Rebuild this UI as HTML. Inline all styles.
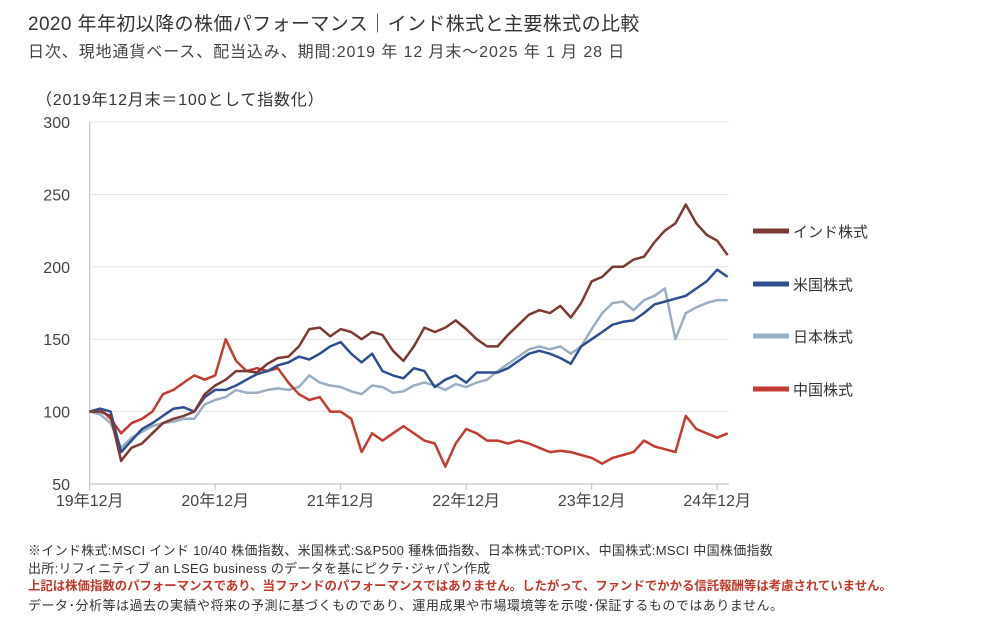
<!DOCTYPE html>
<html><head><meta charset="utf-8"><style>
body{margin:0;background:#fff;width:988px;height:623px;overflow:hidden;font-family:"Liberation Sans","Noto Sans CJK JP",sans-serif;color:#333}
.t{position:absolute;white-space:nowrap}
</style></head><body>
<div class="t" style="left:28px;top:9px;font-size:19px;letter-spacing:0.4px;color:#333">2020 年年初以降の株価パフォーマンス｜インド株式と主要株式の比較</div>
<div class="t" style="left:28px;top:38px;font-size:16px;letter-spacing:0.9px;color:#444">日次、現地通貨ベース、配当込み、期間:2019 年 12 月末～2025 年 1 月 28 日</div>
<div class="t" style="left:36px;top:86px;font-size:16px;letter-spacing:0.8px;color:#333">（2019年12月末＝100として指数化）</div>
<svg id="chart" width="988" height="623" style="position:absolute;left:0;top:0"></svg>
<div class="t" style="left:28px;top:540px;font-size:13px;letter-spacing:0.3px;color:#333">※インド株式:MSCI インド 10/40 株価指数、米国株式:S&amp;P500 種株価指数、日本株式:TOPIX、中国株式:MSCI 中国株価指数</div>
<div class="t" style="left:28px;top:558px;font-size:13px;letter-spacing:0.3px;color:#333">出所:リフィニティブ an LSEG business のデータを基にピクテ･ジャパン作成</div>
<div class="t" style="left:28px;top:576px;font-size:12.4px;color:#c0392b;font-weight:bold">上記は株価指数のパフォーマンスであり、当ファンドのパフォーマンスではありません。したがって、ファンドでかかる信託報酬等は考慮されていません。</div>
<div class="t" style="left:28px;top:595px;font-size:13px;letter-spacing:0.5px;color:#333">データ･分析等は過去の実績や将来の予測に基づくものであり、運用成果や市場環境等を示唆･保証するものではありません。</div>
<script>
const xTickLabels=["19年12月","20年12月","21年12月","22年12月","23年12月","24年12月"];
const yTicks=[50,100,150,200,250,300];
const seriesNames=["インド株式","米国株式","日本株式","中国株式"];
const india=[100,100,97,66,75,78,85,92,95,97,100,112,118,122,128,128,127,133,137,138,145,157,158,152,157,155,150,155,153,142,135,145,158,155,158,163,157,150,145,145,153,160,167,170,168,173,165,175,190,193,200,200,205,207,217,225,230,243,230,222,218,208];
const us=[100,102,100,72,80,88,92,97,102,103,100,110,115,115,118,122,126,128,132,134,138,136,140,145,148,140,134,140,128,125,123,130,128,117,122,125,120,127,127,127,130,135,140,142,140,137,133,145,150,155,160,162,163,168,174,176,178,180,185,190,198,193];
const japan=[100,98,92,75,82,86,90,92,93,95,95,105,108,110,115,113,113,115,116,115,117,125,120,118,117,114,112,118,117,113,114,118,120,118,115,119,117,120,122,128,133,138,143,145,143,145,140,145,157,168,175,176,170,177,180,185,150,168,172,175,177,177];
const china=[100,102,95,85,92,95,100,112,115,120,125,122,125,150,135,128,130,128,130,120,112,108,110,100,100,95,72,85,80,85,90,85,80,78,62,78,88,85,80,80,78,80,78,75,72,73,72,70,68,64,68,70,72,80,76,74,72,97,88,85,82,85];
const colors=["#7b3b32","#2e4f8f","#9aaec4","#c43b31"];
const svg=document.getElementById('chart');const NS='http://www.w3.org/2000/svg';
const X0=89.7,PERYEAR=125.5,XEND=729;
const xm=i=>X0+i*PERYEAR/12;
const y=v=>484-(v-50)*(362/250);
function mk(t,a){const e=document.createElementNS(NS,t);for(const k in a)e.setAttribute(k,a[k]);svg.appendChild(e);return e;}
yTicks.forEach(v=>{
 const g=mk('line',{x1:X0,x2:XEND,y1:y(v),y2:y(v),stroke:v===50?'#bbb':'#e3e3e3','stroke-width':1});
 
 
 const t=mk('text',{x:70,y:y(v)+6,'text-anchor':'end','font-size':16,fill:'#444'});t.textContent=v;
 
 
});
const ya=mk('line',{x1:X0,x2:X0,y1:y(300),y2:y(50),stroke:'#bbb'});


xTickLabels.forEach((l,k)=>{
 const x=X0+k*PERYEAR;
 mk('line',{x1:x,x2:x,y1:484,y2:490,stroke:'#bbb'});
 const t=mk('text',{x:x,y:506,'text-anchor':'middle','font-size':16,fill:'#444'});t.textContent=l;
 
 
});
const order=[2,3,1,0];const all=[india,us,japan,china];
order.forEach(k=>{
 const p=mk('polyline',{points:all[k].map((v,i)=>xm(i).toFixed(1)+','+y(v).toFixed(1)).join(' '),fill:'none',stroke:colors[k],'stroke-width':2.5,'stroke-linejoin':'round'});
 
 
});
const legY=[231,284,336,389];
seriesNames.forEach((n,k)=>{
 const l=mk('line',{x1:753,x2:789,y1:legY[k],y2:legY[k],stroke:colors[k],'stroke-width':5});
 
 
 const t=mk('text',{x:793,y:legY[k]+6,'font-size':15,fill:'#333'});t.textContent=n;
 
 
});
</script>
</body></html>
